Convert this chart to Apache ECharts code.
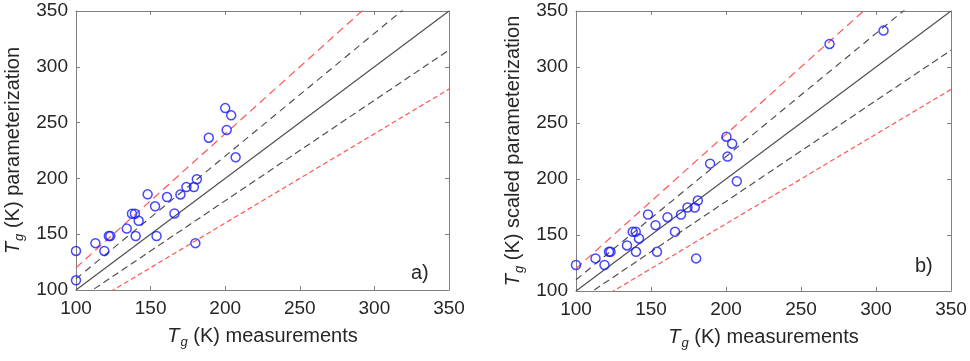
<!DOCTYPE html>
<html><head><meta charset="utf-8">
<script src="https://cdn.jsdelivr.net/npm/echarts@6/dist/echarts.min.js"></script>
<style>html,body{margin:0;padding:0;background:#fff}#c{width:970px;height:361px}</style>
</head><body><div id="c"></div>
<script>
// Panel a) measured vs parameterized
const measA = [100,100,113,119,122,123,134,137.5,139.5,140,142,148,153,154,161,166,170,174,179,181,180,189,200,201,204,207];
const paramA = [135,108.7,142,135,148.4,148.4,155,168.4,168.4,148.4,162,185.7,175,148.4,183.3,168.6,185.6,192.3,192.3,199.3,142,236.5,263,243.4,256.5,218.9];
// Panel b) measured vs scaled parameterization
const measB = [100,113,119,122,123,134,137.8,139.8,140,142,148,153,154,161,166,170,174.3,179.2,181.2,180.1,189.4,200.3,201,204.1,207.2,269,305];
const paramB = [123.2,129.1,123.2,135,135,140.7,152.9,152.9,135,146.9,168.3,158.8,135,165.9,152.9,168.3,174.5,174.5,180.8,129.1,213.7,237.8,220,231.5,198,320.6,332.5];
// Reference lines (endpoints)
const line11 = [[100,100],[350,350]];
const line110 = [[100,110],[350,385]];
const line090 = [[100,90],[350,315]];
const line120 = [[100,120],[350,420]];
const line080 = [[100,80],[350,280]];
const ticks = [100,150,200,250,300,350];

const axisColor = '#808080';
const txtColor = '#262626';
const font = 'Liberation Sans, Arial, sans-serif';

const richStyle = {
  T: {fontStyle: 'italic', fontSize: 20, color: txtColor, fontFamily: font},
  g: {fontStyle: 'italic', fontSize: 13, color: txtColor, fontFamily: font, padding: [13,0,0,1]},
  r: {fontSize: 20, color: txtColor, fontFamily: font}
};

function mkX(gi, top) {
  return {
    gridIndex: gi, type: 'value', min: 100, max: 350, interval: 50,
    position: top ? 'top' : 'bottom',
    axisLine: {show: true, lineStyle: {color: axisColor, width: 1}},
    axisTick: {show: true, inside: true, length: 4, lineStyle: {color: axisColor}},
    axisLabel: {show: !top, color: txtColor, fontSize: 19, fontFamily: font, margin: 9},
    splitLine: {show: false},
    name: top ? '' : '{T|T}{g|g}{r| (K) measurements}',
    nameLocation: 'middle', nameGap: 33,
    nameTextStyle: {fontFamily: font, rich: richStyle}
  };
}
function mkY(gi, right, label) {
  return {
    gridIndex: gi, type: 'value', min: 100, max: 350, interval: 50,
    position: right ? 'right' : 'left',
    axisLine: {show: true, lineStyle: {color: axisColor, width: 1}},
    axisTick: {show: true, inside: true, length: 4, lineStyle: {color: axisColor}},
    axisLabel: {show: !right, color: txtColor, fontSize: 19, fontFamily: font, margin: 8},
    splitLine: {show: false},
    name: right ? '' : '{T|T}{g|g}{r| (K) ' + label + '}',
    nameLocation: 'middle', nameGap: 50, nameRotate: 90,
    nameTextStyle: {fontFamily: font, rich: richStyle}
  };
}
function refLine(data, xi, color, dash) {
  return {
    type: 'line', xAxisIndex: xi, yAxisIndex: xi, data: data, symbol: 'none',
    silent: true, clip: true, z: 1,
    lineStyle: {color: color, width: 1.2, type: dash}
  };
}
function panel(xi, mx, my) {
  return [
    refLine(line11, xi, '#505050', 'solid'),
    refLine(line110, xi, '#505050', [7,5]),
    refLine(line090, xi, '#505050', [7,4]),
    refLine(line120, xi, '#ff5555', [8,5]),
    refLine(line080, xi, '#ff5555', [5,3]),
    {
      type: 'scatter', xAxisIndex: xi, yAxisIndex: xi,
      data: mx.map((v, i) => [v, my[i]]),
      symbol: 'circle', symbolSize: 9, z: 3,
      itemStyle: {color: 'rgba(0,0,0,0)', borderColor: '#1a1aff', borderWidth: 1.5}
    }
  ];
}

const chart = echarts.init(document.getElementById('c'), null, {renderer: 'canvas'});
chart.setOption({
  animation: false,
  backgroundColor: '#fff',
  grid: [
    {left: 76, top: 11, width: 373, height: 279},
    {left: 576, top: 11, width: 375, height: 280}
  ],
  xAxis: [mkX(0, false), mkX(1, false), mkX(0, true), mkX(1, true)],
  yAxis: [mkY(0, false, 'parameterization'), mkY(1, false, 'scaled parameterization'), mkY(0, true), mkY(1, true)],
  series: [].concat(panel(0, measA, paramA), panel(1, measB, paramB)),
  graphic: [
    {type: 'text', left: 411, top: 263, style: {text: 'a)', font: '20px ' + font, fill: txtColor}},
    {type: 'text', left: 915, top: 256, style: {text: 'b)', font: '20px ' + font, fill: txtColor}}
  ]
});
</script></body></html>
